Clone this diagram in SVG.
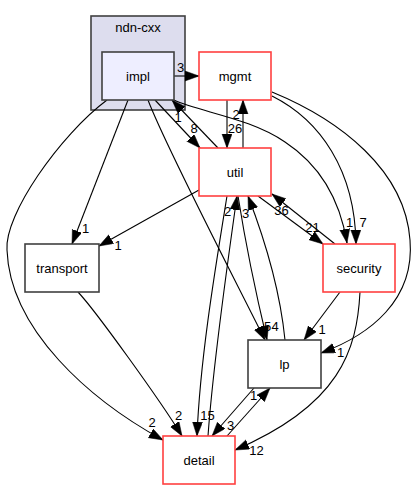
<svg xmlns="http://www.w3.org/2000/svg" width="419" height="489" viewBox="0 0 419 489">
<style>
text{font-family:"Liberation Sans",Arial,Helvetica,sans-serif;font-size:13px;fill:#000}
.n{text-anchor:middle}
.lb{text-anchor:middle}
.box{fill:#fff;stroke:#404040;stroke-width:1.6}
.red{fill:#fff;stroke:#ff4040;stroke-width:1.6}
.e{fill:none;stroke:#000;stroke-width:1.1;marker-end:url(#ah)}
</style>
<defs>
<marker id="ah" markerUnits="userSpaceOnUse" markerWidth="15" markerHeight="11" refX="14" refY="5" orient="auto">
<path d="M0,0 L14,5 L0,10 z" fill="#000" stroke="#000" stroke-width="0.5"/>
</marker>
</defs>
<rect width="419" height="489" fill="#fff"/>
<g id="cluster_ndn-cxx">
<rect x="91" y="16" width="94" height="94" fill="#ddddee" stroke="#404040" stroke-width="1.6"/>
<text class="n" x="138" y="31.5">ndn-cxx</text>
</g>
<g id="edges">
<path class="e" d="M174,76 L199,76"/>
<path class="e" d="M155,100 L200,148"/>
<path class="e" d="M218,148 L172,100"/>
<path class="e" d="M174,100 C200,112 250,118 285,142 C320,165 340,200 347,243"/>
<path class="e" d="M227,100 L227,148"/>
<path class="e" d="M243,148 L243,100"/>
<path class="e" d="M272,96 C320,120 355,170 356,244"/>
<path class="e" d="M272,92 C340,120 405,170 410,240 C415,300 370,335 321,353"/>
<path class="e" d="M128,100 L72,244"/>
<path class="e" d="M199,190 L99,246"/>
<path class="e" d="M107,100 C60,135 4,215 7,250 C10,330 90,400 163,440"/>
<path class="e" d="M148,100 C165,145 230,270 265,340"/>
<path class="e" d="M238,196 C245,240 255,290 267,340"/>
<path class="e" d="M285,340 C280,290 265,240 248,196"/>
<path class="e" d="M258,196 L323,244"/>
<path class="e" d="M335,244 L272,194"/>
<path class="e" d="M340,292 L304,340"/>
<path class="e" d="M360,292 C357,350 340,405 235,450"/>
<path class="e" d="M78,292 C95,310 160,400 182,436"/>
<path class="e" d="M227,196 C215,270 200,360 197,436"/>
<path class="e" d="M208,436 C212,380 225,280 237,196"/>
<path class="e" d="M254,388 L212,436"/>
<path class="e" d="M227,436 L270,388"/>
</g>
<g id="edge-labels">
<text class="lb" x="180.5" y="72">3</text>
<text class="lb" x="194" y="133">8</text>
<text class="lb" x="178" y="122">1</text>
<text class="lb" x="236" y="119">2</text>
<text class="lb" x="235" y="133">26</text>
<text class="lb" x="349.5" y="227">1</text>
<text class="lb" x="363" y="227">7</text>
<text class="lb" x="340.5" y="357">1</text>
<text class="lb" x="85.5" y="233">1</text>
<text class="lb" x="118" y="250">1</text>
<text class="lb" x="152" y="427">2</text>
<text class="lb" x="267.5" y="331">5</text>
<text class="lb" x="275" y="331">4</text>
<text class="lb" x="245.5" y="218">3</text>
<text class="lb" x="312.5" y="232">21</text>
<text class="lb" x="281.5" y="215">36</text>
<text class="lb" x="322" y="334">1</text>
<text class="lb" x="256.5" y="455">12</text>
<text class="lb" x="178.5" y="420">2</text>
<text class="lb" x="207.5" y="420">15</text>
<text class="lb" x="227.5" y="216">2</text>
<text class="lb" x="230.5" y="430">3</text>
<text class="lb" x="253.5" y="400">1</text>
</g>
<g id="node-impl">
<rect x="102" y="52" width="72" height="48" fill="#eeeeff" stroke="#404040" stroke-width="1.6"/>
<text class="n" x="138" y="80.5">impl</text>
</g>
<g id="node-mgmt">
<rect class="red" x="199" y="52" width="72" height="48"/>
<text class="n" x="235" y="80.5">mgmt</text>
</g>
<g id="node-util">
<rect class="red" x="199" y="148" width="72" height="48"/>
<text class="n" x="235" y="176.5">util</text>
</g>
<g id="node-transport">
<rect class="box" x="25" y="244" width="74" height="48"/>
<text class="n" x="62" y="272.5">transport</text>
</g>
<g id="node-security">
<rect class="red" x="323" y="244" width="72" height="48"/>
<text class="n" x="359" y="272.5">security</text>
</g>
<g id="node-lp">
<rect class="box" x="248" y="340" width="73" height="48"/>
<text class="n" x="284.5" y="368.5">lp</text>
</g>
<g id="node-detail">
<rect class="red" x="163" y="436" width="72" height="48"/>
<text class="n" x="199" y="464.5">detail</text>
</g>
</svg>
